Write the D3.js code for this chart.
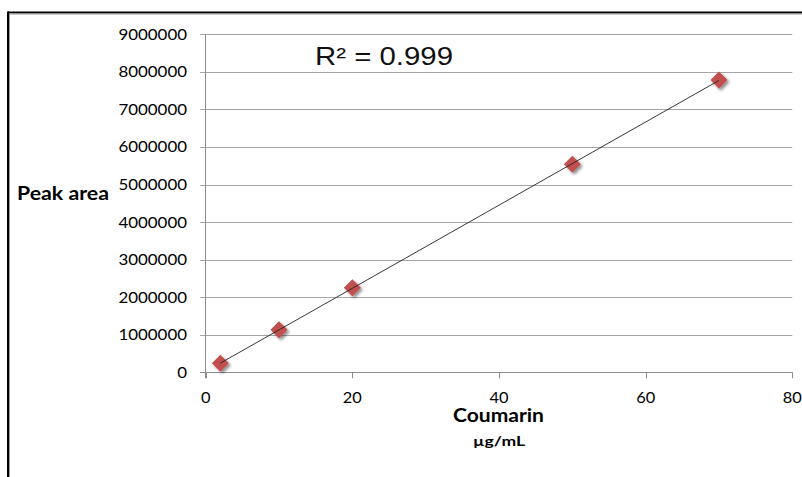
<!DOCTYPE html>
<html><head><meta charset="utf-8">
<script src="https://cdn.jsdelivr.net/npm/d3@7"></script>
<style>html,body{margin:0;padding:0;background:#fff;}svg{display:block;}</style>
</head><body>
<svg id="c" width="802" height="477"></svg>
<script>
const concentrations = [2, 10, 20, 50, 70];
const peakAreas = [240000, 1130000, 2250000, 5540000, 7780000];
const yTicks = [0, 1000000, 2000000, 3000000, 4000000, 5000000, 6000000, 7000000, 8000000, 9000000];
const xTicks = [0, 20, 40, 60, 80];
const r2Label = "R² = 0.999";
const yTitle = "Peak area";
const xTitle = "Coumarin";
const xUnit = "µg/mL";

const svg = d3.select("#c");
const font = "Lato, 'Open Sans', sans-serif";

// frame
svg.append("line").attr("x1",8).attr("x2",802).attr("y1",12.5).attr("y2",12.5).attr("stroke","#000").attr("stroke-width",2);
svg.append("line").attr("x1",9).attr("x2",802).attr("y1",14).attr("y2",14).attr("stroke","#9a9a9a").attr("stroke-width",1);
svg.append("line").attr("x1",8).attr("x2",8).attr("y1",11.5).attr("y2",477).attr("stroke","#000").attr("stroke-width",2);
svg.append("line").attr("x1",9.5).attr("x2",9.5).attr("y1",14).attr("y2",477).attr("stroke","#9a9a9a").attr("stroke-width",1);

const x = d3.scaleLinear().domain([0,80]).range([205.7,792.3]);
const y = d3.scaleLinear().domain([0,9000000]).range([372.3,34.3]);

// gridlines
svg.append("g").selectAll("line").data(yTicks).join("line")
  .attr("x1",200).attr("x2",792.3)
  .attr("y1",d=>Math.round(y(d))+0.5).attr("y2",d=>Math.round(y(d))+0.5)
  .attr("stroke","#a6a6a6").attr("stroke-width",1);

// y axis line
svg.append("line").attr("x1",205.5).attr("x2",205.5).attr("y1",y(9000000)).attr("y2",y(0)+6)
  .attr("stroke","#8c8c8c").attr("stroke-width",1);
// x axis ticks
svg.append("g").selectAll("line").data(xTicks).join("line")
  .attr("x1",d=>Math.round(x(d))+0.5).attr("x2",d=>Math.round(x(d))+0.5)
  .attr("y1",y(0)).attr("y2",y(0)+6).attr("stroke","#8c8c8c");
svg.append("line").attr("x1",200).attr("x2",792.3).attr("y1",Math.round(y(0))+0.5).attr("y2",Math.round(y(0))+0.5)
  .attr("stroke","#8c8c8c");

// y tick labels
svg.append("g").selectAll("text").data(yTicks).join("text")
  .attr("x",187).attr("y",d=>y(d)+5.5)
  .attr("text-anchor","end")
  .attr("font-family",font).attr("font-size",15).attr("fill","#000")
  .attr("textLength",d=>String(d).length*9.8).attr("lengthAdjust","spacingAndGlyphs")
  .text(d=>d);

// x tick labels
svg.append("g").selectAll("text").data(xTicks).join("text")
  .attr("x",d=>x(d)).attr("y",y(0)+30.5)
  .attr("text-anchor","middle")
  .attr("font-family",font).attr("font-size",15.5).attr("fill","#000")
  .attr("textLength",d=>String(d).length*9.5).attr("lengthAdjust","spacingAndGlyphs")
  .text(d=>d);

// titles
svg.append("text").attr("x",17).attr("y",199.5).attr("font-family",font).attr("font-weight","bold")
  .attr("font-size",19).attr("fill","#000").attr("textLength",92).attr("lengthAdjust","spacingAndGlyphs").text(yTitle);
svg.append("text").attr("x",498.5).attr("y",422).attr("text-anchor","middle").attr("font-family",font).attr("font-weight","bold")
  .attr("font-size",18.5).attr("fill","#000").attr("textLength",91).attr("lengthAdjust","spacingAndGlyphs").text(xTitle);
svg.append("text").attr("x",499).attr("y",445.5).attr("text-anchor","middle").attr("font-family",font).attr("font-weight","bold")
  .attr("font-size",14).attr("fill","#000").attr("textLength",52).attr("lengthAdjust","spacingAndGlyphs").text(xUnit);

// R2 label
svg.append("text").attr("x",315).attr("y",64.5).attr("font-family","'Liberation Sans', Arial, sans-serif")
  .attr("font-size",26).attr("fill","#111").attr("textLength",138).attr("lengthAdjust","spacingAndGlyphs").text(r2Label);

// shadow filter
const defs = svg.append("defs");
const f = defs.append("filter").attr("id","sh").attr("x","-50%").attr("y","-50%").attr("width","200%").attr("height","200%");
f.append("feGaussianBlur").attr("in","SourceAlpha").attr("stdDeviation",1.6).attr("result","b");
f.append("feOffset").attr("in","b").attr("dx",1.5).attr("dy",1.5).attr("result","o");
f.append("feComponentTransfer").attr("in","o").attr("result","o2").append("feFuncA").attr("type","linear").attr("slope",0.45);
const m = f.append("feMerge"); m.append("feMergeNode").attr("in","o2"); m.append("feMergeNode").attr("in","SourceGraphic");

const pts = concentrations.map((c,i)=>({x:c,y:peakAreas[i]}));
const sym = d3.symbol().type(d3.symbolDiamond2).size(185);
svg.append("g").selectAll("path").data(pts).join("path")
  .attr("d",sym)
  .attr("transform",d=>`translate(${x(d.x)},${y(d.y)})`)
  .attr("fill","#c0504d").attr("filter","url(#sh)");

// linear trendline (least squares)
const mx = d3.mean(pts,d=>d.x), my = d3.mean(pts,d=>d.y);
const slope = d3.sum(pts,d=>(d.x-mx)*(d.y-my))/d3.sum(pts,d=>(d.x-mx)**2);
const icpt = my - slope*mx;
const xr = d3.extent(concentrations);
svg.append("line").attr("x1",x(xr[0])).attr("y1",y(slope*xr[0]+icpt))
  .attr("x2",x(xr[1])).attr("y2",y(slope*xr[1]+icpt))
  .attr("stroke","#222").attr("stroke-width",0.9);
</script>
</body></html>
